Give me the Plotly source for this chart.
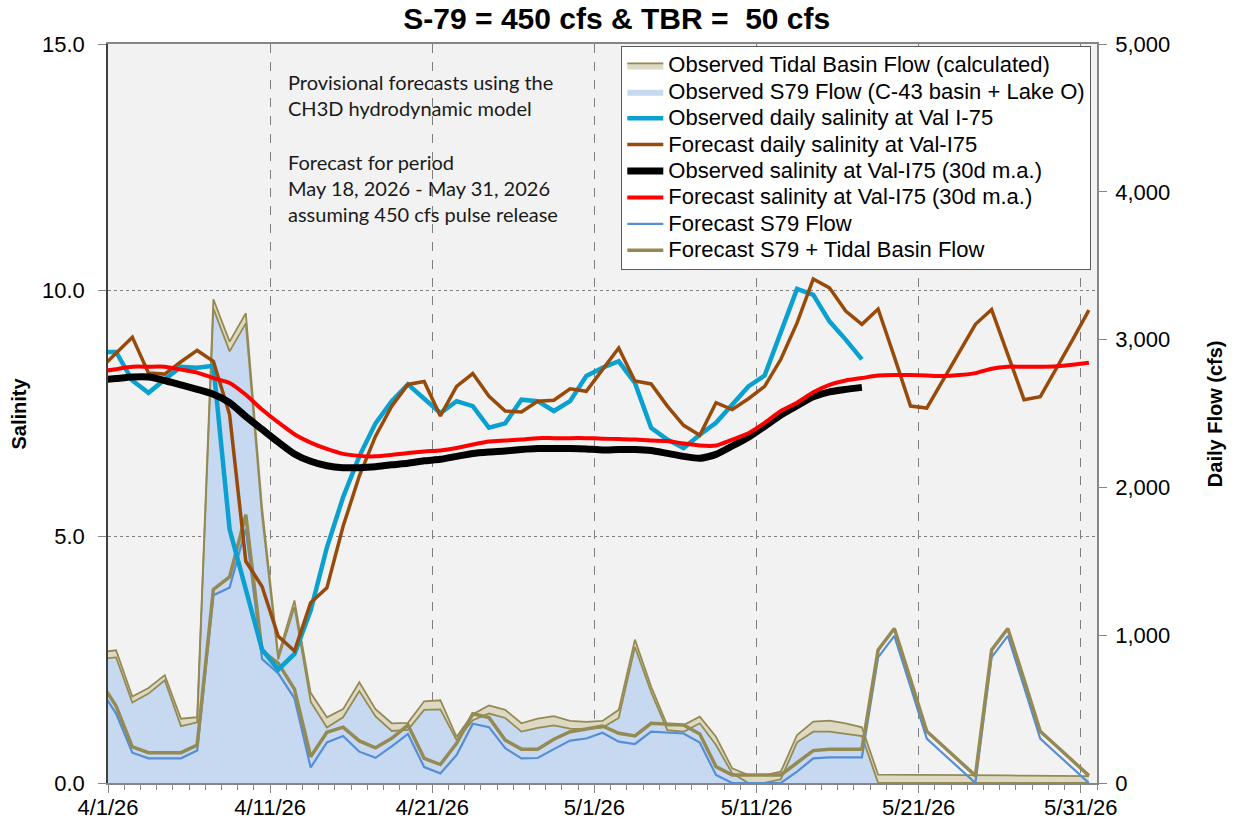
import pandas as pd
import plotly.graph_objects as go

# ---------------- data ----------------
dates = pd.date_range("2026-03-31", "2026-05-31", freq="D")
obs_dates = dates[:48]  # 3/31 .. 5/17

obs_s79_flow = [840, 850, 545, 605, 695, 385, 410, 3210, 2920, 3110, 1810, 835, 1190, 550, 375, 445,
                622, 450, 352, 360, 495, 498, 290, 425, 470, 440, 348, 373, 390, 368, 365, 375,
                440, 920, 615, 358, 347, 404, 257, 65, 0, 0, 25, 275, 347, 347, 332, 318,
                0, 0, 0, 0, 0, 0, 0, 0, 0, 0, 0, 0, 0, 0]
obs_tidal_flow = [45, 48, 40, 38, 35, 50, 35, 63, 66, 68, 55, 30, 45, 60, 70, 55,
                  60, 50, 52, 47, 58, 62, 22, 40, 55, 55, 56, 62, 62, 52, 48, 45,
                  55, 50, 37, 30, 45, 45, 56, 34, 54, 54, 52, 50, 68, 75, 72, 59,
                  56, 56, 55, 55, 54, 54, 53, 52, 51, 50, 49, 48, 47, 46]
obs_daily_sal = [8.75, 8.75, 8.17, 7.92, 8.19, 8.45, 8.43, 8.47, 5.15, 3.93, 2.71, 2.30, 2.62, 3.5,
                 4.78, 5.8, 6.63, 7.3, 7.75, 8.09, 7.8, 7.51, 7.75, 7.65, 7.21, 7.30, 7.78, 7.75,
                 7.55, 7.75, 8.26, 8.43, 8.56, 8.12, 7.21, 6.97, 6.80, 7.07, 7.31, 7.68, 8.05,
                 8.27, 9.13, 10.03, 9.91, 9.37, 9.0, 8.6]
fcst_daily_sal = [8.40, 8.72, 9.05, 8.32, 8.30, 8.55, 8.78, 8.56, 7.48, 4.50, 3.99, 2.98, 2.68, 3.66,
                  3.96, 5.21, 6.23, 7.04, 7.65, 8.09, 8.15, 7.45, 8.05, 8.31, 7.85, 7.55, 7.53, 7.75,
                  7.77, 8.00, 7.95, 8.39, 8.83, 8.16, 8.10, 7.65, 7.26, 7.06, 7.72, 7.58, 7.80, 8.05,
                  8.60, 9.34, 10.23, 10.05, 9.58, 9.31, 9.62, 8.65, 7.65, 7.61, 8.18, 8.74, 9.31,
                  9.61, 8.67, 7.78, 7.84, 8.41, 9.00, 9.60]
obs_sal_30d = [8.18, 8.21, 8.24, 8.24, 8.17, 8.08, 7.99, 7.89, 7.72, 7.44, 7.18, 6.92, 6.68, 6.53,
               6.44, 6.40, 6.40, 6.42, 6.46, 6.49, 6.54, 6.57, 6.63, 6.69, 6.72, 6.74, 6.77, 6.79,
               6.79, 6.79, 6.78, 6.76, 6.77, 6.77, 6.75, 6.69, 6.63, 6.59, 6.67, 6.84, 7.02, 7.24,
               7.47, 7.66, 7.84, 7.94, 7.99, 8.03]
fcst_sal_30d = [8.35, 8.40, 8.45, 8.45, 8.45, 8.39, 8.33, 8.22, 8.12, 7.88, 7.58, 7.32, 7.08, 6.91,
                6.78, 6.68, 6.64, 6.63, 6.66, 6.70, 6.73, 6.75, 6.80, 6.87, 6.93, 6.95, 6.97, 7.00,
                7.00, 7.00, 7.00, 6.99, 6.98, 6.97, 6.95, 6.94, 6.89, 6.85, 6.85, 6.97, 7.10, 7.31,
                7.55, 7.72, 7.93, 8.08, 8.17, 8.22, 8.27, 8.28, 8.28, 8.27, 8.26, 8.28, 8.32, 8.41,
                8.45, 8.45, 8.45, 8.46, 8.49, 8.53]
fcst_s79_flow = [640, 470, 205, 167, 167, 167, 220, 1270, 1322, 1720, 840, 742, 573, 105, 274, 318,
                 212, 170, 248, 332, 108, 65, 189, 401, 378, 235, 167, 169, 229, 287, 301, 340,
                 280, 264, 347, 340, 335, 273, 54, 0, 0, 0, 0, 77, 167, 174, 174, 174,
                 850, 995, 650, 300, 200, 100, 0, 850, 995, 650, 300, 200, 100, 0]
fcst_total_flow = [690, 520, 245, 205, 205, 205, 257, 1310, 1394, 1815, 893, 811, 635, 178, 343, 378,
                   285, 238, 302, 392, 167, 125, 268, 468, 442, 290, 229, 229, 296, 347, 366, 386,
                   336, 318, 404, 399, 392, 332, 111, 54, 54, 54, 54, 137, 219, 228, 228, 228,
                   900, 1045, 700, 350, 250, 150, 50, 900, 1045, 700, 350, 250, 150, 50]

tick_dates = ["2026-04-01", "2026-04-11", "2026-04-21", "2026-05-01", "2026-05-11", "2026-05-21", "2026-05-31"]
tick_labels = ["4/1/26", "4/11/26", "4/21/26", "5/1/26", "5/11/26", "5/21/26", "5/31/26"]

note_lines = ["Provisional forecasts using the", "CH3D hydrodynamic model", "",
              "Forecast for period", "May 18, 2026 - May 31, 2026", "assuming 450 cfs pulse release"]

# ---------------- styling ----------------
FONT = "Liberation Sans, Arial, sans-serif"
OLIVE = "#948A54"
TAN = "#DDD9C3"
LIGHTBLUE = "#C6D9F1"
DAY = 86400000
per = dict(xperiod=DAY, xperiodalignment="middle")


def leg(label):
    return '<span style="font-size:22px">' + label + "</span>"


fig = go.Figure()

# flows (primary y axis, drawn on the right)
fig.add_trace(go.Scatter(x=dates, y=obs_s79_flow, name=leg("Observed S79 Flow (C-43 basin + Lake O)"),
                         stackgroup="obs", mode="lines", line=dict(width=0, color=LIGHTBLUE),
                         fillcolor=LIGHTBLUE, legendrank=2, yaxis="y", **per))
fig.add_trace(go.Scatter(x=dates, y=obs_tidal_flow, name=leg("Observed Tidal Basin Flow (calculated)"),
                         stackgroup="obs", mode="lines", line=dict(width=1.8, color=OLIVE),
                         fillcolor=TAN, legendrank=1, yaxis="y", **per))
fig.add_trace(go.Scatter(x=dates, y=obs_s79_flow, mode="lines", showlegend=False,
                         line=dict(width=1.8, color=OLIVE), yaxis="y", hoverinfo="skip", **per))
fig.add_trace(go.Scatter(x=dates, y=fcst_s79_flow, name=leg("Forecast S79 Flow"), mode="lines",
                         line=dict(width=2.2, color="#558ED5"), legendrank=7, yaxis="y", **per))
fig.add_trace(go.Scatter(x=dates, y=fcst_total_flow, name=leg("Forecast S79 + Tidal Basin Flow"), mode="lines",
                         line=dict(width=3.5, color=OLIVE), legendrank=8, yaxis="y", **per))

# salinity (overlaying axis, drawn on the left)
fig.add_trace(go.Scatter(x=obs_dates, y=obs_daily_sal, name=leg("Observed daily salinity at Val I-75"),
                         mode="lines", line=dict(width=4.5, color="#0AA0CF"), legendrank=3, yaxis="y2", **per))
fig.add_trace(go.Scatter(x=dates, y=fcst_daily_sal, name=leg("Forecast daily salinity at Val-I75"),
                         mode="lines", line=dict(width=3.5, color="#984A0A"), legendrank=4, yaxis="y2", **per))
fig.add_trace(go.Scatter(x=obs_dates, y=obs_sal_30d, name=leg("Observed salinity at Val-I75 (30d m.a.)"),
                         mode="lines", line=dict(width=7, color="black", shape="spline", smoothing=0.6),
                         legendrank=5, yaxis="y2", **per))
fig.add_trace(go.Scatter(x=dates, y=fcst_sal_30d, name=leg("Forecast salinity at Val-I75 (30d m.a.)"),
                         mode="lines", line=dict(width=4, color="#FF0000", shape="spline", smoothing=0.6),
                         legendrank=6, yaxis="y2", **per))

annotations = [
    dict(text="Salinity", x=-0.091, y=0.5, xref="paper", yref="paper", textangle=-90, showarrow=False,
         font=dict(family=FONT, size=20, color="black", weight="bold"), xanchor="center", yanchor="middle"),
    dict(text="Daily Flow (cfs)", x=1.119, y=0.5, xref="paper", yref="paper", textangle=-90, showarrow=False,
         font=dict(family=FONT, size=20, color="black", weight="bold"), xanchor="center", yanchor="middle"),
]
line_y = [0.9486, 0.9134, 0.8775, 0.8403, 0.8051, 0.7693]
for txt, yy in zip(note_lines, line_y):
    if txt:
        annotations.append(dict(text=txt, x=0.180, y=yy, xref="paper", yref="paper", showarrow=False,
                                xanchor="left", yanchor="middle",
                                font=dict(family="Lato, Carlito, sans-serif", size=20, color="#1a1a1a")))

fig.update_layout(
    width=1241, height=829,
    margin=dict(l=108, r=144, t=44, b=46, autoexpand=False),
    paper_bgcolor="white", plot_bgcolor="#F2F2F2",
    font=dict(family=FONT, size=22, color="black"),
    title=dict(text="S-79 = 450 cfs &amp; TBR =\u00a0 50 cfs", x=0.497, xref="container", xanchor="center",
               y=0.978, yref="container", yanchor="middle",
               font=dict(family=FONT, size=30, color="black", weight="bold")),
    xaxis=dict(type="date", range=["2026-04-01", "2026-06-01"], tickvals=tick_dates, ticktext=tick_labels,
               ticks="outside", ticklen=8, tickcolor="#868686", showline=True, linecolor="#868686",
               linewidth=1.5, mirror=True, showgrid=True, gridcolor="#7F7F7F", griddash="dash", gridwidth=1,
               tickfont=dict(size=22), zeroline=False, automargin=False, ticklabelstandoff=-4,
               minor=dict(dtick=DAY, tick0="2026-04-01", ticks="outside", ticklen=5, tickcolor="#868686",
                          showgrid=False)),
    yaxis=dict(range=[0, 5000], dtick=1000, tickformat=",d", side="right", showline=True, linecolor="#868686",
               linewidth=1.5, ticks="outside", ticklen=8, tickcolor="#868686", showgrid=False, zeroline=False,
               tickfont=dict(size=22), ticklabelstandoff=4, automargin=False),
    yaxis2=dict(range=[0, 15], dtick=5, tickformat=".1f", side="left", overlaying="y", anchor="x",
                showline=True, linecolor="#404040", linewidth=1.5, ticks="outside", ticklen=8,
                tickcolor="#868686", showgrid=True, gridcolor="#7F7F7F", griddash="dot", gridwidth=1,
                zeroline=False, tickfont=dict(size=22), ticklabelstandoff=9, automargin=False),
    legend=dict(x=0.519, y=0.997, xanchor="left", yanchor="top", bgcolor="white", bordercolor="#595959",
                borderwidth=1, font=dict(family=FONT, size=18, color="black"), itemwidth=36,
                tracegroupgap=0, traceorder="normal"),
    annotations=annotations,
    showlegend=True,
)

fig.write_html("out.html", config={"displayModeBar": False},
               post_script="document.body.style.margin='0px';")
